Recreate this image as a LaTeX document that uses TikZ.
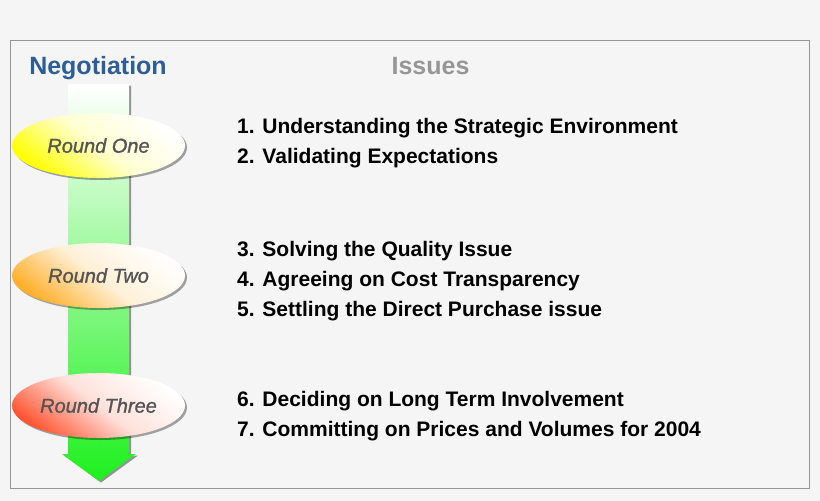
\documentclass[tikz,border=0pt]{standalone}
\usepackage{fontspec}
\setmainfont{Liberation Sans}
\newfontface\roundfont{Liberation Sans Italic}[FakeBold=1.2]
\usetikzlibrary{shapes.geometric,shadows}
\definecolor{bgc}{RGB}{245,245,245}
\definecolor{framec}{RGB}{150,150,150}
\definecolor{negblue}{RGB}{46,94,150}
\definecolor{issgray}{RGB}{150,150,150}
\definecolor{roundtxt}{RGB}{85,85,85}
\definecolor{ryellow}{RGB}{255,255,0}
\definecolor{rorange}{RGB}{255,175,40}
\definecolor{rred}{RGB}{255,85,50}
\definecolor{agreenmid}{RGB}{195,255,195}
\definecolor{agreenbot}{RGB}{30,240,30}
\tikzset{
  heading/.style={font=\fontsize{25}{30}\selectfont\bfseries, inner sep=0pt, anchor=base},
  item/.style={font=\fontsize{21}{30}\selectfont\bfseries, inner sep=0pt, anchor=base west, text=black},
  roundbox/.style={ellipse, minimum width=173pt, minimum height=65pt, inner sep=0pt,
     shading=axis, top color=white, bottom color=#1, middle color=#1!18!white, shading angle=-38,
     drop shadow={shadow xshift=2pt, shadow yshift=-2pt, fill=black, opacity=0.35},
     font=\fontsize{20}{24}\roundfont, text=roundtxt},
}
\begin{document}
\begin{tikzpicture}[x=1pt,y=-1pt]
\useasboundingbox (0,0) rectangle (820,501);
\fill[bgc] (0,0) rectangle (820,501);
\draw[framec, line width=1pt] (10.5,40.5) rectangle (809.5,488.5);
% arrow
\path[shading=axis, top color=white, middle color=agreenmid, bottom color=agreenbot,
      drop shadow={shadow xshift=2pt, shadow yshift=-1.5pt, fill=black, opacity=0.4}]
  (68,84) -- (129,84) -- (129,454) -- (136,454) -- (99,481) -- (62,454) -- (68,454) -- cycle;
% headings
\node[heading, text=negblue] (neg) at (98,74) {Negotiation};
\node[heading, text=issgray] (iss) at (430.5,74) {Issues};
% rounds
\node[roundbox=ryellow] (r1) at (98.5,145.5) {Round One};
\node[roundbox=rorange] (r2) at (98.5,275.5) {Round Two};
\node[roundbox=rred] (r3) at (98.5,405.5) {Round Three};
% items
\node[item] (i1) at (237,133) {1. Understanding the Strategic Environment};
\node[item] (i2) at (237,163) {2. Validating Expectations};
\node[item] (i3) at (237,256) {3. Solving the Quality Issue};
\node[item] (i4) at (237,286) {4. Agreeing on Cost Transparency};
\node[item] (i5) at (237,316) {5. Settling the Direct Purchase issue};
\node[item] (i6) at (237,406) {6. Deciding on Long Term Involvement};
\node[item] (i7) at (237,436) {7. Committing on Prices and Volumes for 2004};
\end{tikzpicture}
\end{document}
